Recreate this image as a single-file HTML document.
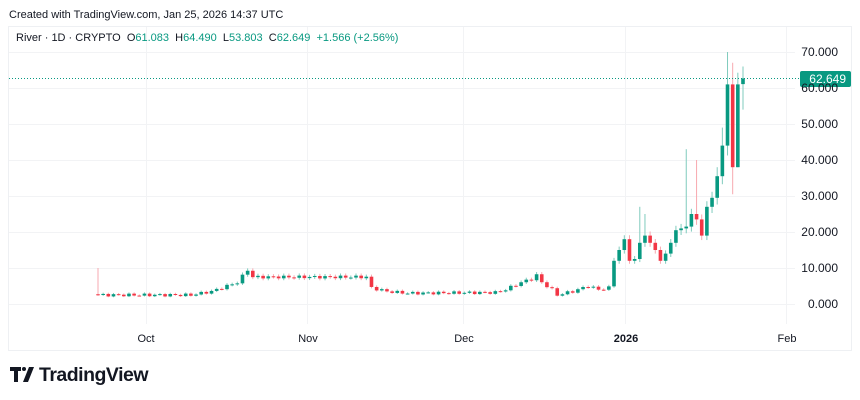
<!DOCTYPE html>
<html><head><meta charset="utf-8"><style>
body{margin:0;width:860px;height:400px;background:#fff;font-family:"Liberation Sans",sans-serif;overflow:hidden;position:relative}
.t{position:absolute;white-space:nowrap}
</style></head><body>
<div class="t" style="left:9px;top:9px;font-size:11px;color:#131722">Created with TradingView.com, Jan 25, 2026 14:37 UTC</div>
<svg id="s" width="860" height="400" style="position:absolute;left:0;top:0">
<rect x="8.5" y="26.5" width="843" height="324" fill="none" stroke="#eef0f3"/>
<g stroke="#f2f3f5" stroke-width="1">
<line x1="9" x2="795" y1="304.5" y2="304.5"/><line x1="9" x2="795" y1="268.5" y2="268.5"/><line x1="9" x2="795" y1="232.5" y2="232.5"/><line x1="9" x2="795" y1="196.5" y2="196.5"/><line x1="9" x2="795" y1="160.5" y2="160.5"/><line x1="9" x2="795" y1="124.5" y2="124.5"/><line x1="9" x2="795" y1="88.5" y2="88.5"/><line x1="9" x2="795" y1="52.5" y2="52.5"/>
<line x1="146.5" x2="146.5" y1="27" y2="324"/><line x1="307.5" x2="307.5" y1="27" y2="324"/><line x1="463.5" x2="463.5" y1="27" y2="324"/><line x1="625.5" x2="625.5" y1="27" y2="324"/><line x1="786.5" x2="786.5" y1="27" y2="324"/>
</g>
<g id="c"></g>
<line x1="9" x2="800" y1="78.5" y2="78.5" stroke="#089981" stroke-dasharray="1,2"/>
<rect x="800" y="71" width="51" height="16" rx="2" fill="#089981"/>
<text x="846" y="83" fill="#fff" font-size="12" text-anchor="end" font-family="Liberation Sans">62.649</text>
<g font-size="12" fill="#131722" text-anchor="end" font-family="Liberation Sans">
<text x="838" y="56">70.000</text><text x="838" y="92">60.000</text><text x="838" y="128">50.000</text><text x="838" y="164">40.000</text><text x="838" y="200">30.000</text><text x="838" y="236">20.000</text><text x="838" y="272">10.000</text><text x="838" y="308">0.000</text>
</g>
<g font-size="11" fill="#131722" text-anchor="middle" font-family="Liberation Sans">
<text x="146" y="342">Oct</text><text x="308" y="342">Nov</text><text x="464" y="342">Dec</text><text x="626" y="342" font-weight="bold">2026</text><text x="787" y="342">Feb</text>
</g>
<g fill="#131722">
<path d="M10 367h11v4h-3v11h-4v-11h-4z"/><circle cx="24" cy="369" r="2"/><path d="M29 367h5l-6 15h-5z"/>
</g>
<text x="39" y="381" font-size="19.5" font-weight="bold" fill="#131722" font-family="Liberation Sans" letter-spacing="-0.5">TradingView</text>
</svg>
<div class="t" style="left:16px;top:32px;font-size:11px;color:#131722">River · 1D · CRYPTO&nbsp; O<span style="color:#089981">61.083</span>&nbsp; H<span style="color:#089981">64.490</span>&nbsp; L<span style="color:#089981">53.803</span>&nbsp; C<span style="color:#089981">62.649</span>&nbsp; <span style="color:#089981">+1.566 (+2.56%)</span></div>
<script>
var pts=[[0,2.5],[18,2.5],[22,3.5],[25,5],[27,6],[29,9.5],[30,7.5],[52,7.5],[53,4.5],[56,3.5],[60,3],[77,3.2],[79,4],[82,6],[84,7],[85,8],[86,6],[88,4],[89,2.5],[92,3.5],[95,5],[97,4],[99,4.5],[100,5]];
var cl=[];
for(var i=0;i<pts.length-1;i++){var a=pts[i],b=pts[i+1];for(var d=a[0];d<b[0];d++){cl.push(a[1]+(b[1]-a[1])*(d-a[0])/(b[0]-a[0])+Math.sin(d*2.3)*0.4);}}
var late=[12,15,18,12,12.5,17,19,17,15,12,14,17,20.5,21,21.5,25,23.5,19,27,29.5,35.5,44,61,38,61,62.649];
cl=cl.concat(late);
var hi={0:10,105:27,106:25,114:43,116:40,120:38,121:49,122:70,123:67};
var lo={123:30.5,124:38,125:54};
var g=document.getElementById('c'),h='';
var Y=function(v){return 304-v*3.6};
for(var d=0;d<cl.length;d++){
 var c=cl[d],o=d==0?2.7:cl[d-1];if(d==125)o=61.083;
 var up=c>=o,col=up?'#089981':'#f23645',wc=up?'#7fcbbd':'#f7a9b0';
 var x=98+d*5.16;
 var H=hi[d]!==undefined?hi[d]:Math.max(o,c)*1.05+0.2,L=lo[d]!==undefined?lo[d]:Math.min(o,c)*0.94-0.1;
 h+='<line x1="'+x+'" x2="'+x+'" y1="'+Y(H)+'" y2="'+Y(L)+'" stroke="'+wc+'"/>';
 var t=Y(Math.max(o,c)),b=Y(Math.min(o,c));if(b-t<1)b=t+1;
 h+='<rect x="'+(x-1.8)+'" y="'+t+'" width="3.6" height="'+(b-t)+'" fill="'+col+'"/>';
}
g.innerHTML=h;
</script>
</body></html>
